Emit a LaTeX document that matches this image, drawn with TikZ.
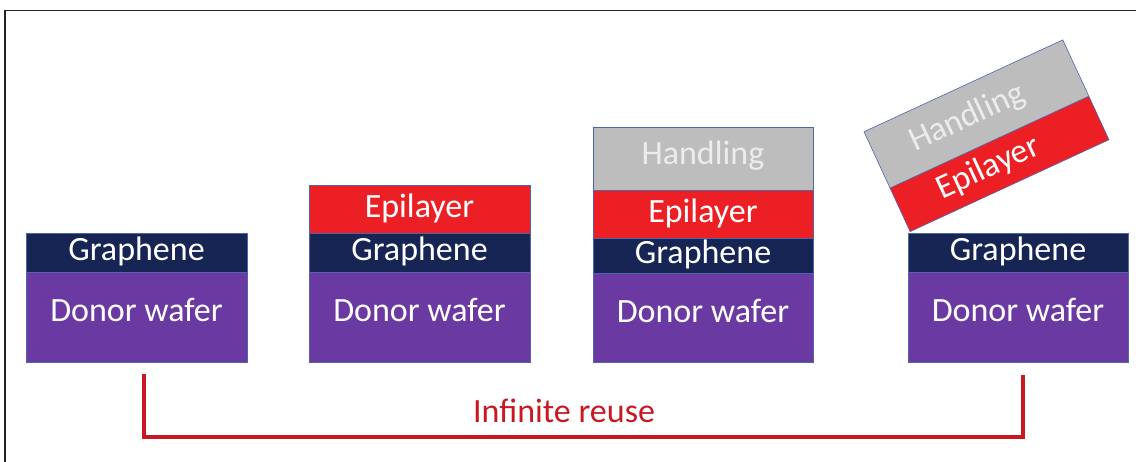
\documentclass[tikz,border=0pt]{standalone}
\usepackage{fontspec}
\setmainfont{Carlito}
\definecolor{graph}{RGB}{22,37,84}
\definecolor{wafer}{RGB}{106,58,162}
\definecolor{epi}{RGB}{236,32,36}
\definecolor{handl}{RGB}{189,189,189}
\definecolor{handtxt}{RGB}{236,236,236}
\definecolor{edge}{RGB}{80,100,170}
\definecolor{reuse}{RGB}{200,25,35}
\definecolor{frame}{RGB}{34,34,34}
\tikzset{
  layer/.style={draw=edge, line width=0.6pt, text=white, inner sep=0pt,
    font=\fontsize{34}{40}\selectfont, text height=24pt, text depth=7pt},
  graphl/.style={layer, fill=graph},
  waferl/.style={layer, fill=wafer, text depth=14pt},
  epil/.style={layer, fill=epi},
  handll/.style={layer, fill=handl, text=handtxt},
  tilttext/.style={font=\fontsize{34}{40}\selectfont, inner sep=0pt, anchor=base, rotate=24.8},
  reuseline/.style={draw=reuse, line width=3.5pt},
}
\begin{document}
\begin{tikzpicture}[x=1pt,y=1pt]
\useasboundingbox (0,0) rectangle (1136,462);
% frame (top and left)
\draw[frame, line width=1.5pt] (5,0) -- (5,451.5) -- (1136,451.5);
% stack 1
\node[graphl, minimum width=221pt, minimum height=39pt] (g1) at (136.5,209.5) {Graphene};
\node[waferl, minimum width=221pt, minimum height=90pt] (w1) at (136.5,145) {Donor wafer};
% stack 2
\node[epil, minimum width=221pt, minimum height=48pt] (e2) at (419.5,253) {Epilayer};
\node[graphl, minimum width=221pt, minimum height=39pt] (g2) at (419.5,209.5) {Graphene};
\node[waferl, minimum width=221pt, minimum height=90pt] (w2) at (419.5,145) {Donor wafer};
% stack 3
\node[handll, minimum width=220pt, minimum height=63pt, text depth=11pt] (h3) at (703,303.5) {Handling};
\node[epil, minimum width=220pt, minimum height=48pt] (e3) at (703,248) {Epilayer};
\node[graphl, minimum width=220pt, minimum height=35pt] (g3) at (703,206.5) {Graphene};
\node[waferl, minimum width=220pt, minimum height=89pt] (w3) at (703,144.5) {Donor wafer};
% stack 4
\node[graphl, minimum width=220pt, minimum height=39pt] (g4) at (1018,209.5) {Graphene};
\node[waferl, minimum width=220pt, minimum height=90pt] (w4) at (1018,145) {Donor wafer};
% lifted, tilted part
\begin{scope}[shift={(910,230)}, rotate=24.8]
  \node[epil, minimum width=219pt, minimum height=48pt, anchor=south west, rotate=24.8] (e4) at (0,0) {};
  \node[handll, minimum width=219pt, minimum height=62pt, anchor=south west, rotate=24.8] (h4) at (0,48) {};
  \node[tilttext, text=white] (e4t) at (98,16) {Epilayer};
  \node[tilttext, text=handtxt] (h4t) at (100,70.5) {Handling};
\end{scope}
% reuse connector
\coordinate (r1) at (144,88);
\coordinate (r2) at (1023,87);
\coordinate (rb) at (564,25);
\draw[reuseline] (r1) -- (r1 |- rb) -| (r2);
\node[text=reuse, font=\fontsize{34}{40}\selectfont, anchor=base] (lbl) at (564,39) {Infinite reuse};
\end{tikzpicture}
\end{document}
